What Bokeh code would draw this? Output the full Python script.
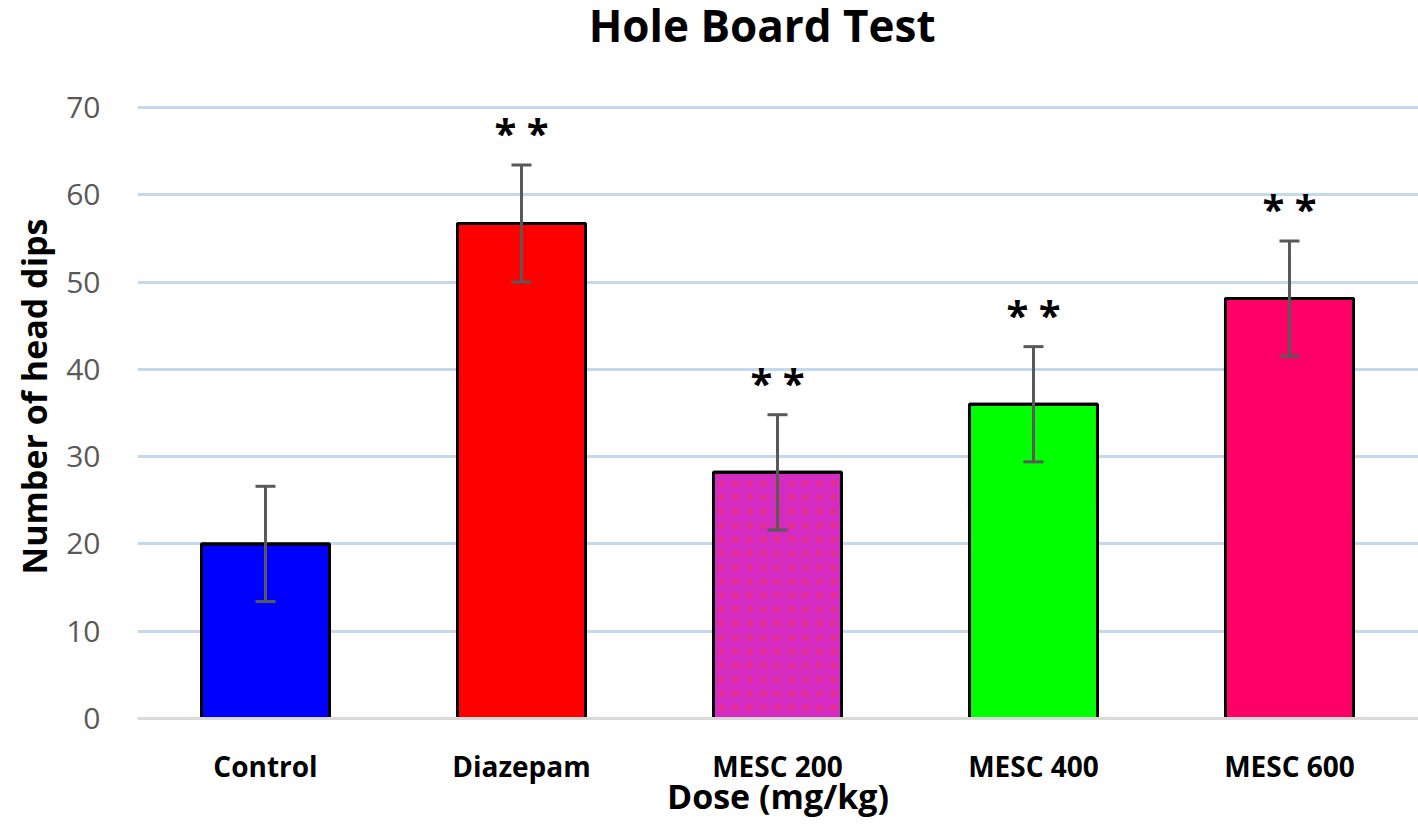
from bokeh.plotting import figure
from bokeh.models import ColumnDataSource, FixedTicker, Range1d, Title, Label, Whisker
from bokeh.embed import file_html
from bokeh.resources import INLINE
from bokeh.core.properties import value

categories = ["Control", "Diazepam", "MESC 200", "MESC 400", "MESC 600"]
means = [20.0, 56.7, 28.2, 36.0, 48.1]
errors = [6.6, 6.7, 6.6, 6.6, 6.6]
colors = ["#0000ff", "#ff0000", "#d42bc3", "#00ff00", "#ff0066"]
significance = ["", "* *", "* *", "* *", "* *"]

xs = list(range(len(categories)))
upper = [m + e for m, e in zip(means, errors)]
lower = [m - e for m, e in zip(means, errors)]
src = ColumnDataSource(dict(x=xs, top=means, color=colors, upper=upper, lower=lower,
                            sig=significance, sig_y=[u + 3.7 for u in upper]))

FONT = "Open Sans"
# frame spans the full height above the x axis so the title can sit inside it
p = figure(width=1418, height=834, output_backend="svg", toolbar_location=None,
           x_range=Range1d(-0.5, 4.504), y_range=Range1d(0, 82.25),
           min_border_left=137, min_border_right=0, min_border_top=0, min_border_bottom=116)
p.outline_line_color = None

title = Label(x=1.94, y=79.5, text="Hole Board Test", text_align="center",
              text_baseline="alphabetic", text_font=FONT, text_font_size="44px",
              text_font_style="bold", text_color="black")
p.add_layout(title)

ylab = Title(text="Number of head dips", align="left", vertical_align="top", offset=144,
             standoff=10, text_font=FONT, text_font_size="34px", text_font_style="bold",
             text_color="black")

p.vbar(x="x", top="top", width=0.5, bottom=0, source=src, fill_color="color",
       line_color="black", line_width=3)
# subtle dotted texture on MESC 200
p.vbar(x=[xs[2]], top=[means[2]], width=0.5, bottom=0, fill_alpha=0, line_color=None,
       hatch_pattern="dot", hatch_color="#ff3030", hatch_scale=14, hatch_weight=1, hatch_alpha=0.35)
p.vbar(x="x", top="top", width=0.5, bottom=0, source=src, fill_alpha=0,
       line_color="black", line_width=3)

w = Whisker(base="x", upper="upper", lower="lower", source=src, line_color="#595959",
            line_width=3, level="overlay")
for head in (w.upper_head, w.lower_head):
    head.size = 20
    head.line_color = "#595959"
    head.line_width = 3
p.add_layout(w)

p.text(x="x", y="sig_y", text="sig", source=src, text_align="center", text_baseline="alphabetic",
       text_font=value(FONT), text_font_size="40px", text_font_style="bold", text_color="black")

p.xgrid.grid_line_color = None
p.ygrid.grid_line_color = "#c5d9ee"
p.ygrid.grid_line_width = 3
p.yaxis.ticker = FixedTicker(ticks=[0, 10, 20, 30, 40, 50, 60, 70])
p.xaxis.ticker = FixedTicker(ticks=xs)
p.xaxis.major_label_overrides = {i: c for i, c in zip(xs, categories)}

p.yaxis.axis_line_color = None
p.yaxis.major_tick_line_color = None
p.yaxis.minor_tick_line_color = None
p.yaxis.major_tick_out = 0
p.yaxis.major_tick_in = 0
p.yaxis.minor_tick_out = 0
p.yaxis.major_label_text_font = FONT
p.yaxis.major_label_text_font_size = "30px"
p.yaxis.major_label_text_color = "#595959"
p.yaxis.major_label_standoff = 37
p.add_layout(ylab, "left")

p.xaxis.axis_line_color = "#d9d9d9"
p.xaxis.axis_line_width = 3
p.xaxis.major_tick_line_color = None
p.xaxis.minor_tick_line_color = None
p.xaxis.major_tick_out = 0
p.xaxis.major_tick_in = 0
p.xaxis.minor_tick_out = 0
p.xaxis.major_label_text_font = FONT
p.xaxis.major_label_text_font_size = "28px"
p.xaxis.major_label_text_font_style = "bold"
p.xaxis.major_label_text_color = "black"
p.xaxis.major_label_standoff = 28
p.xaxis.axis_label = "Dose (mg/kg)"
p.xaxis.axis_label_text_font = FONT
p.xaxis.axis_label_text_font_size = "34px"
p.xaxis.axis_label_text_font_style = "bold"
p.xaxis.axis_label_text_color = "black"
p.xaxis.axis_label_standoff = -15

open("out.html", "w").write(file_html(p, INLINE))
